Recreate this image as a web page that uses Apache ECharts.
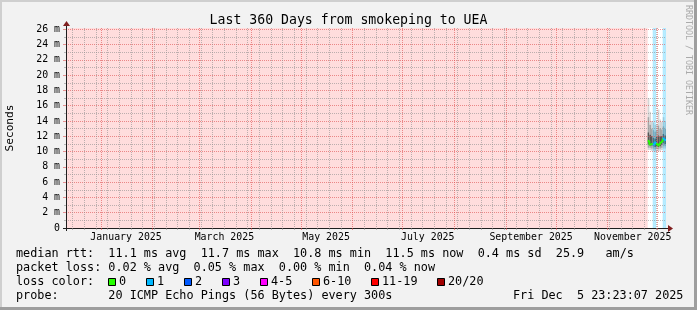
<!DOCTYPE html>
<html><head><meta charset="utf-8">
<script src="https://cdn.jsdelivr.net/npm/echarts@6/dist/echarts.min.js"></script>
<style>html,body{margin:0;padding:0;background:#f2f2f2}#c{width:697px;height:310px}</style>
</head><body><div id="c"></div><script>
// ---------------- data ----------------
const endTime = '2025-12-05T23:23:07';
const spanDays = 360;
const dayStarts = ['2025-11-25','2025-11-26','2025-11-27','2025-11-28','2025-11-29','2025-11-30',
                   '2025-12-01','2025-12-02','2025-12-03','2025-12-04','2025-12-05'];
const medianRtt = [11.4, 10.9, 11.0, 10.9, 11.2, 11.0, 10.8, 11.1, 11.3, 11.7, 11.5];
const lossCount = [0, 0, 0, 1, 1, 0, 0, 0, 0, 1, 1];
const smokeMin  = [10.2, 10.2, 10.1, 10.1, 10.0, 10.1, 10.0, 10.1, 10.2, 10.4, 10.4];
const smokeP10  = [10.5, 10.5, 10.4, 10.4, 10.3, 10.4, 10.3, 10.4, 10.5, 10.7, 10.7];
const smokeP25  = [10.9, 10.8, 10.8, 10.7, 10.6, 10.7, 10.6, 10.7, 10.9, 11.1, 11.0];
const smokeP75  = [12.5, 12.2, 12.0, 11.8, 11.7, 11.9, 12.1, 12.0, 12.0, 12.3, 12.1];
const smokeP90  = [14.5, 13.5, 13.0, 12.8, 12.6, 12.8, 13.4, 13.0, 12.9, 13.3, 13.0];
const smokeMax  = [17.0, 15.2, 14.0, 13.8, 13.5, 13.6, 15.5, 14.2, 13.9, 14.5, 14.0];

const yTicks = [0,2,4,6,8,10,12,14,16,18,20,22,24,26];
const yMinorTicks = [1,3,5,7,9,11,13,15,17,19,21,23,25];
const xLabelMonths = ['2025-01','2025-03','2025-05','2025-07','2025-09','2025-11'];
const xTickLabels = ['January 2025','March 2025','May 2025','July 2025','September 2025','November 2025'];

const lossColors = ['#26ff00','#00b8ff','#0059ff','#7e00ff','#ff00ff','#ff5500','#ff0000','#a10000'];
const lossLabels = ['0','1','2','3','4-5','6-10','11-19','20/20'];
const lossUpper  = [0, 1, 2, 3, 5, 10, 19, 20];

const titleText = 'Last 360 Days from smokeping to UEA';
const legendLines = [
  'median rtt:  11.1 ms avg  11.7 ms max  10.8 ms min  11.5 ms now  0.4 ms sd  25.9   am/s',
  'packet loss: 0.02 % avg  0.05 % max  0.00 % min  0.04 % now',
  'loss color:',
  'probe:       20 ICMP Echo Pings (56 Bytes) every 300s'
];
const dateStamp = 'Fri Dec  5 23:23:07 2025';
const watermark = 'RRDTOOL / TOBI OETIKER';

// ---------------- helpers ----------------
const DAY = 86400000;
function ms(s) { return Date.parse(s.length === 7 ? s + '-01T00:00:00Z' : s.length === 10 ? s + 'T00:00:00Z' : s + 'Z'); }
const tEnd = ms(endTime);
const tStart = tEnd - spanDays * DAY;

// gridline positions from the calendar
const monthStarts = [];
{ const d = new Date(tStart); let y = d.getUTCFullYear(), m = d.getUTCMonth() + 1;
  while (true) { const t = Date.UTC(y, m, 1); if (t > tEnd) break; monthStarts.push(t); m++; } }
const weekStarts = [];
{ let t = Date.UTC(new Date(tStart).getUTCFullYear(), new Date(tStart).getUTCMonth(), new Date(tStart).getUTCDate());
  while (new Date(t).getUTCDay() !== 0 || t < tStart) t += DAY;
  for (; t <= tEnd; t += 7 * DAY) if (monthStarts.indexOf(t) < 0) weekStarts.push(t); }
const xLabelValues = xLabelMonths.map(s => ms(s) + 15 * DAY);

const dayMs = dayStarts.map(ms);
const smokeData = dayMs.map((t, i) => [t, Math.min(t + DAY, tEnd), smokeMin[i], smokeP10[i], smokeP25[i], smokeP75[i], smokeP90[i], smokeMax[i]]);
const medianData = dayMs.map((t, i) => [t, Math.min(t + DAY, tEnd), medianRtt[i], lossCount[i], i + 1 < medianRtt.length ? medianRtt[i + 1] : NaN]);
const lossBandData = dayMs.map((t, i) => [t, Math.min(t + DAY, tEnd), lossCount[i]]).filter(d => d[2] > 0);
const noDataSpans = [[tStart, dayMs[0]]];
function lossIdx(l) { for (let i = 0; i < lossUpper.length; i++) if (l <= lossUpper[i]) return i; return lossUpper.length - 1; }

// ---------------- layout ----------------
const G = { left: 66, top: 28, width: 600, height: 200 };
const MONO = 'DejaVu Sans Mono';
const MGRID = 'rgba(222,79,79,0.6)';
const GRID = 'rgba(143,143,143,0.6)';
const ARROW = '#801f1f';

const chart = echarts.init(document.getElementById('c'), null, { renderer: 'canvas' });

function spanRect(params, api, fill) {
  const x0 = api.coord([api.value(0), 0])[0];
  const x1 = api.coord([api.value(1), 0])[0];
  const cs = params.coordSys;
  return { type: 'rect', shape: { x: x0, y: cs.y, width: x1 - x0, height: cs.height }, style: { fill } };
}

const graphics = [
  { type: 'rect', shape: { x: 0, y: 0, width: 697, height: 2 }, style: { fill: '#cfcfcf' }, silent: true },
  { type: 'rect', shape: { x: 0, y: 0, width: 2, height: 310 }, style: { fill: '#cfcfcf' }, silent: true },
  { type: 'rect', shape: { x: 0, y: 307, width: 697, height: 3 }, style: { fill: '#9e9e9e' }, silent: true },
  { type: 'rect', shape: { x: 694, y: 0, width: 3, height: 310 }, style: { fill: '#9e9e9e' }, silent: true },
  // axis extensions and arrows
  { type: 'line', shape: { x1: G.left - 3, y1: G.top + G.height + 0.5, x2: G.left, y2: G.top + G.height + 0.5 }, style: { stroke: '#1f1f1f', lineWidth: 1 }, z: 20 },
  { type: 'line', shape: { x1: G.left + 0.5, y1: G.top + G.height, x2: G.left + 0.5, y2: G.top + G.height + 3 }, style: { stroke: '#1f1f1f', lineWidth: 1 }, z: 20 },
  { type: 'line', shape: { x1: G.left + 0.5, y1: G.top - 2, x2: G.left + 0.5, y2: G.top }, style: { stroke: '#1f1f1f', lineWidth: 1 }, z: 20 },
  { type: 'line', shape: { x1: G.left + G.width, y1: G.top + G.height + 0.5, x2: G.left + G.width + 2, y2: G.top + G.height + 0.5 }, style: { stroke: '#1f1f1f', lineWidth: 1 }, z: 20 },
  { type: 'polygon', shape: { points: [[G.left - 3, G.top - 2], [G.left + 4, G.top - 2], [G.left + 0.5, G.top - 7]] }, style: { fill: ARROW }, z: 20 },
  { type: 'polygon', shape: { points: [[G.left + G.width + 2, G.top + G.height - 3], [G.left + G.width + 2, G.top + G.height + 4], [G.left + G.width + 7, G.top + G.height + 0.5]] }, style: { fill: ARROW }, z: 20 },
  // watermark
  { type: 'text', x: 688, y: 60, rotation: -Math.PI / 2, style: { text: watermark, font: '8.3px "' + MONO + '"', fill: '#aaaaaa', align: 'center', verticalAlign: 'middle' } },
];
const lineY = [254, 268, 281.8, 295.8];
legendLines.forEach((s, i) => graphics.push({ type: 'text', x: 16, y: lineY[i], style: { text: s, font: '11.8px "' + MONO + '"', fill: '#000', verticalAlign: 'middle' } }));
graphics.push({ type: 'text', x: 513, y: lineY[3], style: { text: dateStamp, font: '11.8px "' + MONO + '"', fill: '#000', verticalAlign: 'middle' } });
{ let bx = 108.5;
  lossLabels.forEach((lab, i) => {
    graphics.push({ type: 'rect', shape: { x: bx, y: 278.5, width: 7, height: 7 }, style: { fill: lossColors[i], stroke: '#000', lineWidth: 1 } });
    const lx = bx + 10.5;
    graphics.push({ type: 'text', x: lx, y: lineY[2], style: { text: lab, font: '11.8px "' + MONO + '"', fill: '#000', verticalAlign: 'middle' } });
    bx = Math.round(lx + lab.length * 7.1 + 19.6) + 0.5;
  });
}

const xBase = { type: 'value', min: tStart, max: tEnd, gridIndex: 0, z: 3 };
const yBase = { type: 'value', min: 0, max: 26.17, gridIndex: 0, z: 3 };

chart.setOption({
  backgroundColor: '#f2f2f2',
  animation: false,
  title: { text: titleText, left: 'center', top: 14, padding: 0,
           textStyle: { fontFamily: MONO, fontSize: 13.2, fontWeight: 'normal', color: '#000' } },
  grid: { left: G.left, top: G.top, width: G.width, height: G.height, show: true, backgroundColor: '#ffffff', borderWidth: 0,
          containLabel: false, outerBoundsMode: 'none' },
  xAxis: [
    Object.assign({}, xBase, {
      position: 'bottom',
      axisLine: { show: true, onZero: false, lineStyle: { color: '#1f1f1f', width: 1 } },
      axisTick: { show: true, length: 2, customValues: monthStarts, lineStyle: { color: MGRID } },
      axisLabel: { show: true, customValues: xLabelValues, margin: 4, fontFamily: MONO, fontSize: 9.9, color: '#000',
                   formatter: v => { const k = xLabelValues.indexOf(v); return k >= 0 ? xTickLabels[k] : ''; } },
      splitLine: { show: true, lineStyle: { color: MGRID, type: [1, 1], width: 1 } }
    }),
    Object.assign({}, xBase, {
      position: 'bottom',
      axisLine: { show: false },
      axisTick: { show: true, length: 2, customValues: weekStarts, lineStyle: { color: GRID } },
      axisLabel: { show: false },
      splitLine: { show: true, lineStyle: { color: GRID, type: [1, 1], width: 1 } }
    })
  ],
  yAxis: [
    Object.assign({}, yBase, {
      position: 'left',
      name: 'Seconds', nameLocation: 'middle', nameGap: 50, nameRotate: 90,
      nameTextStyle: { fontFamily: MONO, fontSize: 11.2, color: '#000' },
      axisLine: { show: true, onZero: false, lineStyle: { color: '#1f1f1f', width: 1 } },
      axisTick: { show: true, length: 3, customValues: yTicks, lineStyle: { color: MGRID } },
      axisLabel: { show: true, customValues: yTicks, margin: 6, fontFamily: MONO, fontSize: 9.9, color: '#000',
                   formatter: v => v === 0 ? '0' : v + ' m' },
      splitLine: { show: true, lineStyle: { color: MGRID, type: [1, 1], width: 1 } }
    }),
    Object.assign({}, yBase, {
      position: 'left',
      axisLine: { show: false },
      axisTick: { show: true, length: 2, customValues: yMinorTicks, lineStyle: { color: GRID } },
      axisLabel: { show: false },
      splitLine: { show: true, lineStyle: { color: GRID, type: [1, 1], width: 1 } }
    })
  ],
  series: [
    { type: 'custom', name: 'nodata', xAxisIndex: 0, yAxisIndex: 0, z: 1, silent: true, clip: true,
      encode: { x: [0, 1] }, data: noDataSpans,
      renderItem: (p, api) => spanRect(p, api, '#ffdddd') },
    { type: 'custom', name: 'smoke', xAxisIndex: 0, yAxisIndex: 0, z: 1, silent: true, clip: true,
      encode: { x: [0, 1], y: [2, 7] }, data: smokeData,
      renderItem: (p, api) => {
        const x0 = api.coord([api.value(0), 0])[0];
        const x1 = api.coord([api.value(1), 0])[0];
        const y = v => api.coord([api.value(0), v])[1];
        const bands = [[2, 7, '#d6d6d6'], [3, 6, '#a6a6a6'], [4, 5, '#555555']];
        return { type: 'group', children: bands.map(([a, b, c]) => ({
          type: 'rect', shape: { x: x0, y: y(api.value(b)), width: x1 - x0, height: y(api.value(a)) - y(api.value(b)) },
          style: { fill: c } })) };
      } },
    { type: 'custom', name: 'lossband', xAxisIndex: 0, yAxisIndex: 0, z: 2, silent: true, clip: true,
      encode: { x: [0, 1] }, data: lossBandData,
      renderItem: (p, api) => { const r = spanRect(p, api, lossColors[lossIdx(api.value(2))]); r.style.opacity = 0.3; return r; } },
    { type: 'custom', name: 'median', xAxisIndex: 0, yAxisIndex: 0, z: 6, silent: true, clip: true,
      encode: { x: [0, 1], y: 2 }, data: medianData,
      renderItem: (p, api) => {
        const x0 = api.coord([api.value(0), 0])[0];
        const x1 = api.coord([api.value(1), 0])[0];
        const y0 = api.coord([api.value(0), api.value(2)])[1];
        const col = lossColors[lossIdx(api.value(3))];
        const children = [{ type: 'line', shape: { x1: x0, y1: y0, x2: x1, y2: y0 }, style: { stroke: col, lineWidth: 2 } }];
        const nx = api.value(4);
        if (!isNaN(nx)) { const y1 = api.coord([api.value(1), nx])[1];
          children.push({ type: 'line', shape: { x1: x1, y1: y0, x2: x1, y2: y1 }, style: { stroke: col, lineWidth: 2 } }); }
        return { type: 'group', children };
      } }
  ],
  graphic: graphics
});
</script></body></html>
